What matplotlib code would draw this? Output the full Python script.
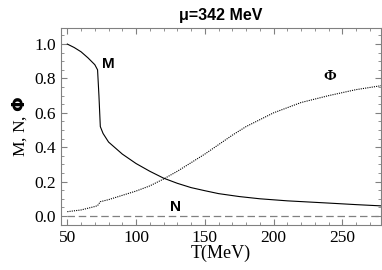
from matplotlib import pyplot as plt
from matplotlib.ticker import MultipleLocator

# M (solid)
T_M = [50, 55, 60, 65, 70, 72, 73, 74, 76, 80, 90, 100, 110, 120, 130, 140, 150, 160, 175, 190, 210, 240, 260, 280]
M = [1.0, 0.98, 0.955, 0.92, 0.88, 0.85, 0.70, 0.52, 0.48, 0.43, 0.36, 0.305, 0.26, 0.22, 0.19, 0.165, 0.147, 0.13, 0.113, 0.10, 0.088, 0.075, 0.066, 0.058]

# Phi (dotted)
T_P = [50, 60, 70, 72, 74, 80, 90, 100, 110, 120, 130, 140, 150, 160, 170, 180, 200, 220, 240, 260, 280]
Phi = [0.025, 0.035, 0.055, 0.06, 0.083, 0.095, 0.12, 0.145, 0.175, 0.215, 0.26, 0.31, 0.36, 0.415, 0.47, 0.52, 0.60, 0.66, 0.70, 0.735, 0.76]

# N (dashed)
T_N = [50, 280]
N = [0.0, 0.0]

fig = plt.figure(figsize=(3.82, 2.70), dpi=100)
ax = fig.add_axes([0.16, 0.167, 0.837, 0.729])

ax.plot(T_M, M, color='black', lw=0.8)
ax.plot(T_P, Phi, color='black', lw=0.8, ls=(0, (1, 1)))
ax.plot(T_N, N, color='gray', lw=0.9, ls=(0, (6, 3)))

ax.set_xlim(45.5, 278)
ax.set_ylim(-0.052, 1.093)
ax.xaxis.set_major_locator(MultipleLocator(50))
ax.xaxis.set_minor_locator(MultipleLocator(10))
ax.yaxis.set_major_locator(MultipleLocator(0.2))
ax.yaxis.set_minor_locator(MultipleLocator(0.05))
ax.yaxis.set_major_formatter(plt.FuncFormatter(lambda v, p: '%.1f' % v))
ax.tick_params(which='both', direction='in', top=True, right=True, color='gray')
ax.tick_params(which='major', length=4, labelsize=12.5)
ax.tick_params(which='minor', length=2)
for lab in ax.get_xticklabels() + ax.get_yticklabels():
    lab.set_fontfamily('Liberation Serif')
for s in ax.spines.values():
    s.set_color('gray')

ax.set_xlabel('T(MeV)', fontfamily='Liberation Serif', fontsize=13, labelpad=-1)
ax.set_ylabel('M, N, $\\mathbf{\\Phi}$', fontfamily='Liberation Serif', fontsize=12.5, labelpad=4)
ax.set_title('μ=342 MeV', fontfamily='Liberation Sans', fontweight='bold', fontsize=11.5, pad=6)

ax.text(80, 0.885, 'M', fontfamily='Liberation Sans', fontweight='bold', fontsize=11, ha='center', va='center')
ax.text(241, 0.81, 'Φ', fontfamily='Liberation Serif', fontweight='bold', fontsize=11, ha='center', va='center')
ax.text(129, 0.05, 'N', fontfamily='Liberation Sans', fontweight='bold', fontsize=11, ha='center', va='center')

plt.savefig('out.png', dpi=100)
